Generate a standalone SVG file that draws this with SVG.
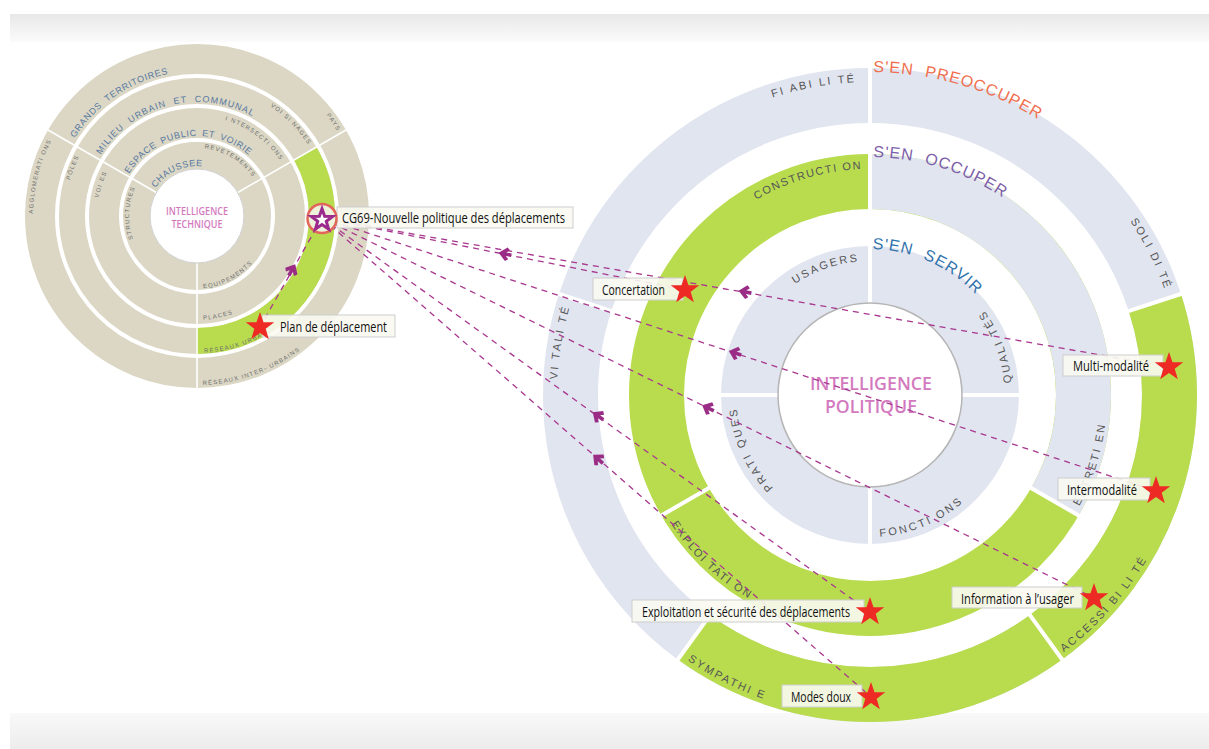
<svg xmlns="http://www.w3.org/2000/svg" width="1209" height="749" viewBox="0 0 1209 749">
<defs>
<linearGradient id="gTop" x1="0" y1="0" x2="0" y2="1"><stop offset="0" stop-color="#e8e8e8"/><stop offset="1" stop-color="#fbfbfb"/></linearGradient>
<linearGradient id="gBot" x1="0" y1="0" x2="0" y2="1"><stop offset="0" stop-color="#f9f9f9"/><stop offset="1" stop-color="#ececec"/></linearGradient>
<path id="cw313" d="M-313,0A313,313 0 0 1 313,0A313,313 0 0 1 -313,0"/>
<path id="ccw322" d="M-322,0A322,322 0 0 0 322,0A322,322 0 0 0 -322,0"/>
<path id="cw226" d="M-226,0A226,226 0 0 1 226,0A226,226 0 0 1 -226,0"/>
<path id="ccw237" d="M-237,0A237,237 0 0 0 237,0A237,237 0 0 0 -237,0"/>
<path id="cw134" d="M-134,0A134,134 0 0 1 134,0A134,134 0 0 1 -134,0"/>
<path id="ccw142" d="M-142,0A142,142 0 0 0 142,0A142,142 0 0 0 -142,0"/>
<path id="cw323" d="M-323,0A323,323 0 0 1 323,0A323,323 0 0 1 -323,0"/>
<path id="cw238" d="M-238,0A238,238 0 0 1 238,0A238,238 0 0 1 -238,0"/>
<path id="cw146" d="M-146,0A146,146 0 0 1 146,0A146,146 0 0 1 -146,0"/>
<path id="cw145" d="M-145,0A145,145 0 0 1 145,0A145,145 0 0 1 -145,0"/>
<path id="cw114" d="M-114,0A114,114 0 0 1 114,0A114,114 0 0 1 -114,0"/>
<path id="cw80" d="M-80,0A80,80 0 0 1 80,0A80,80 0 0 1 -80,0"/>
<path id="cw50" d="M-50,0A50,50 0 0 1 50,0A50,50 0 0 1 -50,0"/>
<path id="cw164" d="M-164,0A164,164 0 0 1 164,0A164,164 0 0 1 -164,0"/>
<path id="cw132" d="M-132,0A132,132 0 0 1 132,0A132,132 0 0 1 -132,0"/>
<path id="cw100" d="M-100,0A100,100 0 0 1 100,0A100,100 0 0 1 -100,0"/>
<path id="cw68" d="M-68,0A68,68 0 0 1 68,0A68,68 0 0 1 -68,0"/>
<path id="ccw72" d="M-72.5,0A72.5,72.5 0 0 0 72.5,0A72.5,72.5 0 0 0 -72.5,0"/>
<path id="ccw104" d="M-104,0A104,104 0 0 0 104,0A104,104 0 0 0 -104,0"/>
<path id="ccw137" d="M-137,0A137,137 0 0 0 137,0A137,137 0 0 0 -137,0"/>
<path id="ccw169" d="M-169,0A169,169 0 0 0 169,0A169,169 0 0 0 -169,0"/>
<path id="star" d="M0,-15L3.52,-4.85L14.27,-4.64L5.71,1.85L8.82,12.14L0,6L-8.82,12.14L-5.71,1.85L-14.27,-4.64L-3.52,-4.85Z"/>
<path id="arw" d="M-6.5,0L1.3,-7L4.2,-4.6L-0.8,0L4.2,4.6L1.3,7Z M-2.5,-1.8L6.5,-1.8L6.5,1.8L-2.5,1.8Z"/>
</defs>
<style>
.blue{fill:none;stroke:#e1e5f0}
.green{fill:none;stroke:#b9dc4f}
.beige{fill:none;stroke:#dbd7c4}
.div{stroke:#fff;stroke-width:4}
.ldiv{stroke:#fff;stroke-width:1.6}
.rl{font-family:"Liberation Sans",Arial,sans-serif;font-size:11px;fill:#555;letter-spacing:2.2px}
.sen{font-family:"Liberation Sans",Arial,sans-serif;font-size:16px;letter-spacing:1px;word-spacing:6px}
.lb{font-family:"Liberation Sans",Arial,sans-serif;font-size:9px;fill:#5877a2;letter-spacing:0.7px;word-spacing:3px}
.lg{font-family:"Liberation Sans",Arial,sans-serif;font-size:6px;fill:#6e6e6e;letter-spacing:1.2px}
.box{fill:#fafaf2;fill-opacity:0.9;stroke:#cdcdcd;stroke-width:1}
.bt{font-family:"Open Sans","Liberation Sans",Arial,sans-serif;font-size:15px;fill:#111}
.conn{fill:none;stroke:#a8378f;stroke-width:1.3;stroke-dasharray:6 5}
.arr{fill:#9b2c86}
.rstar{fill:#ee2a24}
.pink{font-family:"Open Sans","Liberation Sans",Arial,sans-serif;font-weight:600;fill:#d37abf;text-anchor:middle}
</style>

<rect x="10" y="14" width="1199" height="28" fill="url(#gTop)"/>
<rect x="10" y="713" width="1199" height="36" fill="url(#gBot)"/>

<g id="left-circle">
<circle cx="197" cy="216" r="157" class="beige" stroke-width="30"/>
<circle cx="197" cy="216" r="125" class="beige" stroke-width="26"/>
<circle cx="197" cy="216" r="93" class="beige" stroke-width="30"/>
<circle cx="197" cy="216" r="60.5" class="beige" stroke-width="27"/>
<path d="M305.25,153.5A125,125 0 0 1 197,341" class="green" stroke-width="26"/>
<line x1="197" y1="263" x2="197" y2="388" class="ldiv"/>
<line x1="156.3" y1="192.5" x2="48.04" y2="130" class="ldiv"/>
<line x1="237.7" y1="192.5" x2="345.96" y2="130" class="ldiv"/>
<circle cx="197" cy="216" r="47" fill="#fff" stroke="#cfcfcf" stroke-width="1"/>
<text class="pink" font-size="10" x="197" y="214.5" textLength="62" lengthAdjust="spacingAndGlyphs">INTELLIGENCE</text>
<text class="pink" font-size="10" x="197" y="227.5" textLength="51" lengthAdjust="spacingAndGlyphs">TECHNIQUE</text>
<g transform="translate(197,216)">
<text class="lb" transform="rotate(212.5)"><textPath href="#cw145" startOffset="50%">GRANDS TERRITOIRES</textPath></text>
<text class="lb" transform="rotate(212.5)" style="letter-spacing:1px;word-spacing:4px"><textPath href="#cw114" startOffset="50%">MILIEU URBAIN ET COMMUNAL</textPath></text>
<text class="lb" transform="rotate(212)" style="letter-spacing:0.6px;word-spacing:2px"><textPath href="#cw80" startOffset="50%">ESPACE PUBLIC ET VOIRIE</textPath></text>
<text class="lb" transform="rotate(214)" style="letter-spacing:0.6px"><textPath href="#cw50" startOffset="50%">CHAUSSEE</textPath></text>
<text class="lg" transform="rotate(329)" text-anchor="end"><textPath href="#cw164" startOffset="50%">PAYS</textPath></text>
<text class="lg" transform="rotate(327.5)" text-anchor="end"><textPath href="#cw132" startOffset="50%">VOI SI NAGES</textPath></text>
<text class="lg" transform="rotate(326.5)" text-anchor="end"><textPath href="#cw100" startOffset="50%">I NTERSECTI ONS</textPath></text>
<text class="lg" transform="rotate(325.5)" text-anchor="end"><textPath href="#cw68" startOffset="50%">REVETEMENTS</textPath></text>
<text class="lg" transform="rotate(207.5)" text-anchor="end"><textPath href="#cw164" startOffset="50%">AGGLOMERATI ONS</textPath></text>
<text class="lg" transform="rotate(207)" text-anchor="end"><textPath href="#cw132" startOffset="50%">PÔLES</textPath></text>
<text class="lg" transform="rotate(206)" text-anchor="end"><textPath href="#cw100" startOffset="50%">VOI ES</textPath></text>
<text class="lg" transform="rotate(205)" text-anchor="end"><textPath href="#cw68" startOffset="50%">STRUCTURES</textPath></text>
<text class="lg" transform="rotate(85)"><textPath href="#ccw72" startOffset="50%">EQUIPEMENTS</textPath></text>
<text class="lg" transform="rotate(86.5)"><textPath href="#ccw104" startOffset="50%">PLACES</textPath></text>
<text class="lg" transform="rotate(87)"><textPath href="#ccw137" startOffset="50%">RÉSEAUX URBAINS</textPath></text>
<text class="lg" transform="rotate(88)"><textPath href="#ccw169" startOffset="50%">RÉSEAUX INTER- URBAINS</textPath></text>
</g>
</g>

<g id="right-circle">
<circle cx="870" cy="395" r="299.5" class="blue" stroke-width="55"/>
<path d="M1154.84,302.45A299.5,299.5 0 0 1 693.96,637.3" class="green" stroke-width="55"/>
<circle cx="870" cy="395" r="213.5" class="green" stroke-width="55"/>
<path d="M870,181.5A213.5,213.5 0 0 1 1054.9,501.75" class="blue" stroke-width="55"/>
<circle cx="870" cy="395" r="120.5" class="blue" stroke-width="57"/>
<line x1="870" y1="66" x2="870" y2="546" class="div"/>
<line x1="719" y1="395" x2="1021" y2="395" class="div"/>
<line x1="1029.3" y1="487" x2="1080.4" y2="516.5" class="div"/>
<line x1="710.7" y1="487" x2="659.6" y2="516.5" class="div"/>
<line x1="613.21" y1="311.56" x2="556.15" y2="293.02" class="div"/>
<line x1="1126.79" y1="311.56" x2="1183.85" y2="293.02" class="div"/>
<line x1="1028.7" y1="613.44" x2="1063.97" y2="661.98" class="div"/>
<line x1="711.3" y1="613.44" x2="676.03" y2="661.98" class="div"/>
<circle cx="870" cy="395" r="92" fill="#fff" stroke="#b5b5b5" stroke-width="1.5"/>
<text class="pink" font-size="18" x="871" y="390" textLength="122" lengthAdjust="spacingAndGlyphs">INTELLIGENCE</text>
<text class="pink" font-size="18" x="871" y="413" textLength="92" lengthAdjust="spacingAndGlyphs">POLITIQUE</text>
<g transform="translate(870,395)">
<text class="rl" transform="rotate(267.5)" text-anchor="end"><textPath href="#cw313" startOffset="50%">FI ABI LI TÉ</textPath></text>
<text class="rl" transform="rotate(340.5)" text-anchor="end"><textPath href="#cw313" startOffset="50%">SOLI DI TÉ</textPath></text>
<text class="rl" transform="rotate(196.5)" text-anchor="end"><textPath href="#cw313" startOffset="50%">VI TALI TÉ</textPath></text>
<text class="rl" transform="rotate(53)"><textPath href="#ccw322" startOffset="50%">ACCESSI BI LI TÉ</textPath></text>
<text class="rl" transform="rotate(124.5)"><textPath href="#ccw322" startOffset="50%">SYMPATHI E</textPath></text>
<text class="rl" transform="rotate(268)" text-anchor="end" style="letter-spacing:1.5px"><textPath href="#cw226" startOffset="50%">CONSTRUCTI ON</textPath></text>
<text class="rl" transform="rotate(28)"><textPath href="#ccw237" startOffset="50%">ENTRETI EN</textPath></text>
<text class="rl" transform="rotate(147)" style="letter-spacing:1.8px"><textPath href="#ccw237" startOffset="50%">EXPLOI TATI ON</textPath></text>
<text class="rl" transform="rotate(265.5)" text-anchor="end"><textPath href="#cw134" startOffset="50%">USAGERS</textPath></text>
<text class="rl" transform="rotate(175)" text-anchor="end" style="letter-spacing:2.5px"><textPath href="#cw134" startOffset="50%">PRATI QUES</textPath></text>
<text class="rl" transform="rotate(-5)" style="letter-spacing:2.5px"><textPath href="#ccw142" startOffset="50%">QUALI TÉS</textPath></text>
<text class="rl" transform="rotate(86)" style="letter-spacing:2.5px"><textPath href="#ccw142" startOffset="50%">FONCTI ONS</textPath></text>
<text class="sen" transform="rotate(270.6)" fill="#f06e4e"><textPath href="#cw323" startOffset="50%">S'EN PREOCCUPER</textPath></text>
<text class="sen" transform="rotate(270.8)" fill="#7d5fa9"><textPath href="#cw238" startOffset="50%">S'EN OCCUPER</textPath></text>
<text class="sen" transform="rotate(271)" fill="#3173ac"><textPath href="#cw146" startOffset="50%">S'EN SERVIR</textPath></text>
</g>
</g>

<g id="connectors">
<line x1="322" y1="218" x2="685" y2="290" class="conn"/>
<line x1="322" y1="218" x2="1169" y2="367" class="conn"/>
<line x1="322" y1="218" x2="1156" y2="491" class="conn"/>
<line x1="322" y1="218" x2="1094" y2="598" class="conn"/>
<line x1="322" y1="218" x2="870" y2="612" class="conn"/>
<line x1="322" y1="218" x2="871" y2="697" class="conn"/>
<line x1="322" y1="218" x2="260" y2="327" class="conn"/>
<use href="#arw" class="arr" transform="translate(505,254) rotate(11.2)"/>
<use href="#arw" class="arr" transform="translate(745,292) rotate(10)"/>
<use href="#arw" class="arr" transform="translate(735,353) rotate(18.1)"/>
<use href="#arw" class="arr" transform="translate(708,408) rotate(26.2)"/>
<use href="#arw" class="arr" transform="translate(598,416) rotate(35.7)"/>
<use href="#arw" class="arr" transform="translate(598,459) rotate(41.1)"/>
<use href="#arw" class="arr" transform="translate(292,270) rotate(119.6)"/>
</g>

<g id="node-cg69">
<rect x="337" y="207" width="236" height="21" class="box"/>
<text class="bt" x="342" y="223" textLength="223" lengthAdjust="spacingAndGlyphs">CG69-Nouvelle politique des déplacements</text>
<circle cx="322" cy="218.5" r="14.5" fill="#eef2da" stroke="#e2675a" stroke-width="2.5"/>
<path d="M0,-15L3.52,-4.85L14.27,-4.64L5.71,1.85L8.82,12.14L0,6L-8.82,12.14L-5.71,1.85L-14.27,-4.64L-3.52,-4.85Z" transform="translate(322,220) scale(0.75)" fill="#fff" stroke="#9b2a8c" stroke-width="4" stroke-linejoin="miter"/>
</g>
<g id="node-plan">
<rect x="262" y="315" width="133" height="22" class="box"/>
<text class="bt" x="280" y="332" textLength="107" lengthAdjust="spacingAndGlyphs">Plan de déplacement</text>
<use href="#star" class="rstar" transform="translate(260,327)"/>
</g>
<g id="node-concertation">
<rect x="593" y="278" width="90" height="22" class="box"/>
<text class="bt" x="602" y="295" textLength="63" lengthAdjust="spacingAndGlyphs">Concertation</text>
<use href="#star" class="rstar" transform="translate(685,290)"/>
</g>
<g id="node-multimodalite">
<rect x="1063" y="355" width="100" height="21" class="box"/>
<text class="bt" x="1073" y="371" textLength="76" lengthAdjust="spacingAndGlyphs">Multi-modalité</text>
<use href="#star" class="rstar" transform="translate(1169,367)"/>
</g>
<g id="node-intermodalite">
<rect x="1058" y="478" width="92" height="22" class="box"/>
<text class="bt" x="1067" y="495" textLength="70" lengthAdjust="spacingAndGlyphs">Intermodalité</text>
<use href="#star" class="rstar" transform="translate(1156,491)"/>
</g>
<g id="node-information">
<rect x="952" y="587" width="130" height="21" class="box"/>
<text class="bt" x="961" y="604" textLength="113" lengthAdjust="spacingAndGlyphs">Information à l’usager</text>
<use href="#star" class="rstar" transform="translate(1094,598)"/>
</g>
<g id="node-exploitation">
<rect x="632" y="600" width="232" height="22" class="box"/>
<text class="bt" x="642" y="617" textLength="208" lengthAdjust="spacingAndGlyphs">Exploitation et sécurité des déplacements</text>
<use href="#star" class="rstar" transform="translate(870,612)"/>
</g>
<g id="node-modes-doux">
<rect x="782" y="685" width="80" height="22" class="box"/>
<text class="bt" x="791" y="702" textLength="60" lengthAdjust="spacingAndGlyphs">Modes doux</text>
<use href="#star" class="rstar" transform="translate(871,697)"/>
</g>
</svg>
